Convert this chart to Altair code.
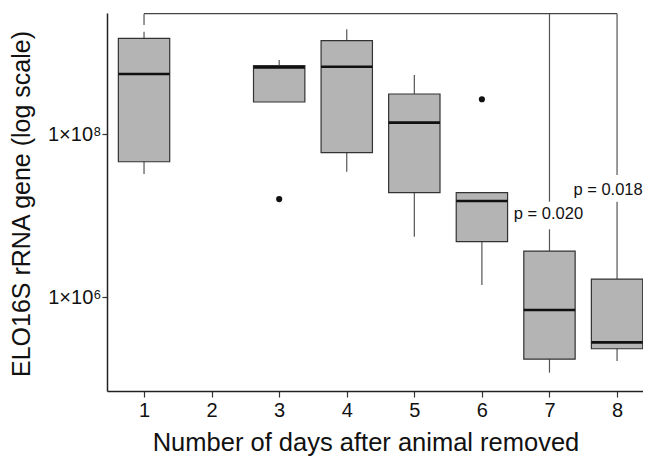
import altair as alt
import pandas as pd

# ---- data ----
days = [1, 3, 4, 5, 6, 7, 8]
whisker_low = [3.23e7, 2.47e8, 3.44e7, 5.50e6, 1.40e6, 1.18e5, 1.64e5]
q1 = [4.57e7, 2.47e8, 5.90e7, 1.91e7, 4.78e6, 1.73e5, 2.32e5]
median = [5.45e8, 6.58e8, 6.70e8, 1.38e8, 1.51e7, 6.92e5, 2.78e5]
q3 = [1.49e9, 6.89e8, 1.40e9, 3.10e8, 1.91e7, 3.66e6, 1.66e6]
whisker_high = [1.80e9, 8.09e8, 1.93e9, 5.30e8, 1.91e7, 6.78e6, 1.48e7]

outlier_days = [3, 6]
outlier_values = [1.59e7, 2.67e8]

bracket_from_day = 1
bracket_days = [1, 7, 8]
bracket_top = 3.0e9
bracket_bottoms = [2.17e9, 1.48e7, 3.14e7]

pvalue_days = [7, 8]
pvalue_y = [1.04e7, 2.06e7]
pvalue_labels = ["p = 0.020", "p = 0.018"]

xtick_values = [1, 2, 3, 4, 5, 6, 7, 8]
ytick_values = [1e6, 1e8]
ytick_labels = ["1×10⁶", "1×10⁸"]

x_title = "Number of days after animal removed"
y_title = "ELO16S rRNA gene (log scale)"

# ---- tables ----
boxes = pd.DataFrame({"day": days, "wl": whisker_low, "q1": q1, "med": median,
                      "q3": q3, "wh": whisker_high})
outliers = pd.DataFrame({"day": outlier_days, "value": outlier_values})
verts = pd.DataFrame({"day": bracket_days, "top": [bracket_top] * len(bracket_days),
                      "bottom": bracket_bottoms})
horiz = pd.DataFrame({"d1": [bracket_from_day], "d2": [max(bracket_days)], "top": [bracket_top]})
ptext = pd.DataFrame({"day": pvalue_days, "y": pvalue_y, "label": pvalue_labels})

FONT = "Liberation Sans"

label_expr = " : ".join(
    f"datum.value == {v} ? '{l}'" for v, l in zip(ytick_values, ytick_labels)
) + " : ''"

x_scale = alt.Scale(domain=[0.452, 8.384], nice=False, zero=False)
y_scale = alt.Scale(type="log", domain=[10 ** 4.847, 10 ** 9.485], nice=False)

x_axis = alt.Axis(values=xtick_values, format="d", title=x_title, grid=False,
                  labelFontSize=20, labelPadding=3, tickSize=6,
                  titleFontSize=25.5, titleFontWeight="normal",
                  titleX=258.5, titleY=59, titleBaseline="alphabetic", titleAlign="center")
y_axis = alt.Axis(values=ytick_values, labelExpr=label_expr, title=y_title, grid=False,
                  labelFontSize=20, labelPadding=1, tickSize=5,
                  titleFontSize=25, titleFontWeight="normal", titleAngle=270,
                  titleX=-78, titleY=190.5, titleBaseline="alphabetic", titleAlign="center")

HALF = 0.38
base = alt.Chart(boxes).transform_calculate(lo=f"datum.day - {HALF}", hi=f"datum.day + {HALF}")

whisk = base.mark_rule(color="#555555", strokeWidth=1.2).encode(
    x=alt.X("day:Q", scale=x_scale, axis=x_axis),
    y=alt.Y("wl:Q", scale=y_scale, axis=y_axis),
    y2="wh:Q",
)
box = base.mark_rect(fill="#b4b4b4", stroke="#333333", strokeWidth=1.2).encode(
    x=alt.X("lo:Q", scale=x_scale, axis=x_axis),
    x2="hi:Q",
    y=alt.Y("q1:Q", scale=y_scale, axis=y_axis),
    y2="q3:Q",
)
med = base.mark_rule(color="#111111", strokeWidth=2.6).encode(
    x=alt.X("lo:Q", scale=x_scale, axis=x_axis),
    x2="hi:Q",
    y=alt.Y("med:Q", scale=y_scale, axis=y_axis),
)
outl = alt.Chart(outliers).mark_circle(color="#111111", opacity=1, size=38).encode(
    x=alt.X("day:Q", scale=x_scale, axis=x_axis),
    y=alt.Y("value:Q", scale=y_scale, axis=y_axis),
)
vrules = alt.Chart(verts).mark_rule(color="#555555", strokeWidth=1.2).encode(
    x=alt.X("day:Q", scale=x_scale, axis=x_axis),
    y=alt.Y("top:Q", scale=y_scale, axis=y_axis),
    y2="bottom:Q",
)
hrule = alt.Chart(horiz).mark_rule(color="#444444", strokeWidth=1.3).encode(
    x=alt.X("d1:Q", scale=x_scale, axis=x_axis),
    x2="d2:Q",
    y=alt.Y("top:Q", scale=y_scale, axis=y_axis),
)

# p-value labels (the last one nudged left so it stays inside the page)
text_layers = []
for i, (lab, dxv) in enumerate(zip(pvalue_labels, [-1, -9])):
    text_layers.append(
        alt.Chart(ptext).transform_filter(alt.datum.label == lab).mark_text(
            font=FONT, fontSize=16.5, color="#111111", align="center",
            baseline="middle", dx=dxv,
        ).encode(
            x=alt.X("day:Q", scale=x_scale, axis=x_axis),
            y=alt.Y("y:Q", scale=y_scale, axis=y_axis),
            text="label:N",
        )
    )

chart = alt.layer(whisk, box, med, outl, vrules, hrule, *text_layers).properties(
    width=536, height=378,
    autosize=alt.AutoSizeParams(type="none"),
    padding={"left": 99, "top": 5, "right": 0, "bottom": 65},
).configure_view(stroke=None).configure_axis(
    domainColor="#222222", domainWidth=1.5, tickColor="#333333", tickWidth=1.2,
    labelFont=FONT, titleFont=FONT, labelColor="#111111", titleColor="#111111",
)

chart.save("out.html", embed_options={"renderer": "svg", "actions": False})
